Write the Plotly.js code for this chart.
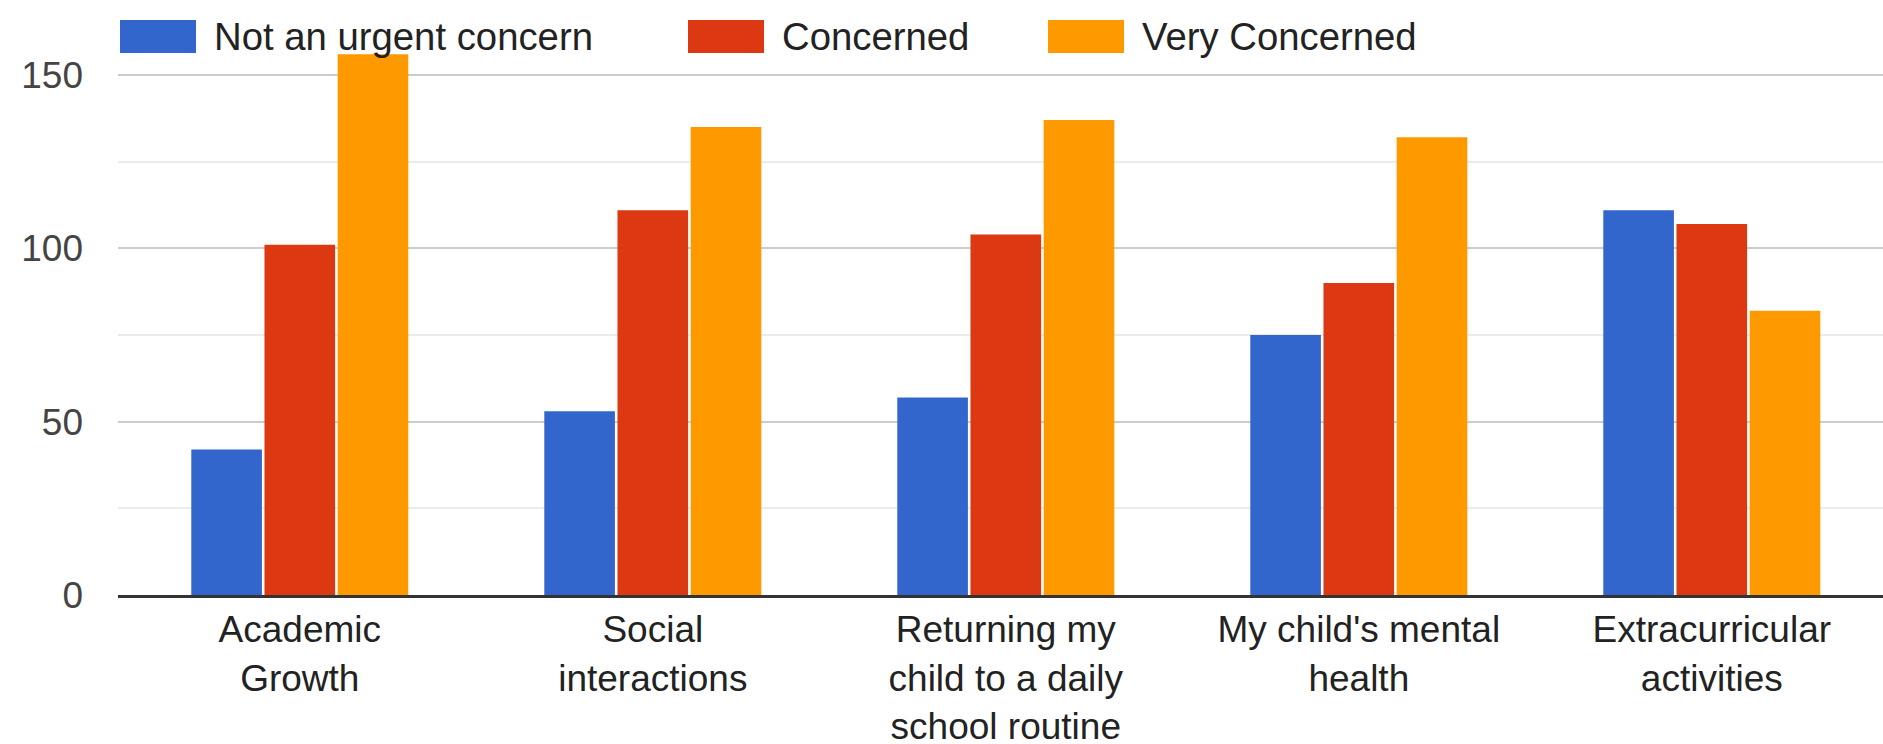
<!DOCTYPE html>
<html>
<head>
<meta charset="utf-8">
<script src="https://cdn.plot.ly/plotly-3.0.1.min.js"></script>
<style>
  html, body { margin: 0; padding: 0; background: #fff; }
  #chart { width: 1883px; height: 744px; }
</style>
</head>
<body>
<div id="chart"></div>
<script>
// ---- data ----
const categories = [
  "Academic<br>Growth",
  "Social<br>interactions",
  "Returning my<br>child to a daily<br>school routine",
  "My child's mental<br>health",
  "Extracurricular<br>activities"
];
const seriesNames = ["Not an urgent concern", "Concerned", "Very Concerned"];
const notUrgent = [42, 53, 57, 75, 111];
const concerned = [101, 111, 104, 90, 107];
const veryConcerned = [156, 135, 137, 132, 82];
const yTickValues = [0, 50, 100, 150];
const yTickLabels = ["0", "50", "100", "150"];

// ---- styling ----
const colors = ["#3366cc", "#dc3912", "#ff9900"];
const FONT = "Liberation Sans, Arial, sans-serif";
const W = 1883, H = 744;
const plotLeft = 118, plotRight = 1883, plotTop = 40, plotBottom = 595.5;

const seriesValues = [notUrgent, concerned, veryConcerned];
const xIdx = categories.map((_, i) => i);

const traces = seriesValues.map((vals, k) => ({
  type: "bar",
  name: seriesNames[k],
  x: xIdx,
  y: vals,
  marker: { color: colors[k], line: { width: 0 } },
  hoverinfo: "x+y+name"
}));

// custom legend (swatches + text) in paper coordinates
const px2x = px => (px - plotLeft) / (plotRight - plotLeft);
const py2y = py => (plotBottom - py) / (plotBottom - plotTop);
const legendSwatchX = [120, 688, 1048];
const swW = 76, swTop = 20, swBot = 53, textGap = 16;
const shapes = [];
const annotations = [];
seriesNames.forEach((nm, k) => {
  shapes.push({
    type: "rect", xref: "paper", yref: "paper", layer: "above",
    x0: px2x(legendSwatchX[k]), x1: px2x(legendSwatchX[k] + swW),
    y0: py2y(swBot), y1: py2y(swTop),
    fillcolor: colors[k], line: { width: 0 }
  });
  annotations.push({
    xref: "paper", yref: "paper",
    x: px2x(legendSwatchX[k] + swW + textGap), y: py2y((swTop + swBot) / 2),
    xanchor: "left", yanchor: "middle", showarrow: false,
    text: nm, font: { family: FONT, size: 38.3, color: "#222" }
  });
});

const layout = {
  width: W, height: H,
  margin: { l: plotLeft, r: W - plotRight, t: plotTop, b: H - plotBottom, pad: 0 },
  paper_bgcolor: "#fff", plot_bgcolor: "#fff",
  showlegend: false,
  barmode: "group",
  bargap: 0.378,
  bargroupgap: 0.035,
  font: { family: FONT, size: 37, color: "#222" },
  xaxis: {
    tickmode: "array",
    tickvals: xIdx,
    ticktext: categories,
    range: [-0.515, 4.485],
    showgrid: false,
    zeroline: false,
    showline: true,
    linecolor: "#333",
    linewidth: 3,
    ticks: "",
    ticklabelstandoff: 0,
    tickfont: { family: FONT, size: 37, color: "#222" },
    fixedrange: true
  },
  yaxis: {
    range: [0, (plotBottom - plotTop) / 3.47],
    tickmode: "array",
    tickvals: yTickValues,
    ticktext: yTickLabels,
    showgrid: true,
    gridcolor: "#cccccc",
    gridwidth: 2,
    zeroline: false,
    showline: false,
    ticks: "",
    ticklabelstandoff: 34,
    tickfont: { family: FONT, size: 37, color: "#444" },
    minor: { dtick: 25, tick0: 0, showgrid: true, gridcolor: "#ebebeb", gridwidth: 2, ticks: "" },
    fixedrange: true
  },
  shapes: shapes,
  annotations: annotations
};

Plotly.newPlot("chart", traces, layout, { displayModeBar: false, staticPlot: true });
</script>
</body>
</html>
